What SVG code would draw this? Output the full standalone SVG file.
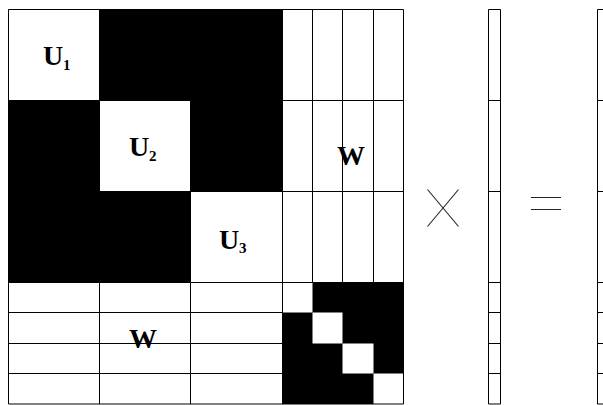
<svg xmlns="http://www.w3.org/2000/svg" width="603" height="405" viewBox="0 0 603 405">
<style>
.g{stroke:#000;stroke-width:1;fill:none}
.w{fill:#fff}
.b{fill:#000}
.lbl{font-family:"Liberation Serif","Times New Roman",serif;font-weight:bold;font-size:28px;fill:#000}
.sub{font-family:"Liberation Serif","Times New Roman",serif;font-weight:bold;font-size:15px;fill:#000}
.op{stroke:#222;stroke-width:1.1;fill:none}
</style>
<rect x="0" y="0" width="603" height="405" fill="#fff"/>
<g id="matrix-A">
  <rect class="b" x="8.5" y="9.5" width="274" height="273"/>
  <rect class="w" x="8.5" y="9.5" width="91" height="91"/>
  <rect class="w" x="99.5" y="100.5" width="91" height="91"/>
  <rect class="w" x="190.5" y="191.5" width="92" height="91"/>
  <rect class="b" x="282.5" y="282.5" width="121" height="121.5"/>
  <rect class="w" x="282.5" y="282.5" width="30" height="30"/>
  <rect class="w" x="312.5" y="312.5" width="30" height="31"/>
  <rect class="w" x="342.5" y="343.5" width="31" height="30"/>
  <rect class="w" x="373.5" y="373.5" width="30" height="30.5"/>
  <path class="g" d="M8.5 9.5H403.5V404H8.5Z
    M99.5 9.5V191.5 M190.5 100.5V282.5
    M8.5 100.5H190.5 M99.5 191.5H282.5
    M282.5 9.5V404 M8.5 282.5H403.5
    M312.5 9.5V282.5 M342.5 9.5V282.5 M373.5 9.5V282.5
    M282.5 100.5H403.5 M282.5 191.5H403.5
    M8.5 312.5H282.5 M8.5 343.5H282.5 M8.5 373.5H282.5
    M99.5 282.5V404 M190.5 282.5V404"/>
  <text class="lbl" x="43" y="65">U</text><text class="sub" x="63" y="70">1</text>
  <text class="lbl" x="129" y="156">U</text><text class="sub" x="149" y="161">2</text>
  <text class="lbl" x="219" y="249">U</text><text class="sub" x="239" y="253">3</text>
  <text class="lbl" x="351" y="165" text-anchor="middle">W</text>
  <text class="lbl" x="143" y="348" text-anchor="middle">W</text>
</g>
<g id="vector-x">
  <path class="g" d="M488.5 9.5H500.5V404H488.5Z M488.5 100.5H500.5 M488.5 191.5H500.5 M488.5 282.5H500.5 M488.5 312.5H500.5 M488.5 343.5H500.5 M488.5 373.5H500.5"/>
</g>
<g id="vector-b">
  <path class="g" d="M610 9.5H597.5V404H610 M597.5 100.5H610 M597.5 191.5H610 M597.5 282.5H610 M597.5 312.5H610 M597.5 343.5H610 M597.5 373.5H610"/>
</g>
<g id="operator-times">
  <path class="op" d="M427.5 189.5L458.5 226.5 M458.5 189.5L427.5 226.5"/>
</g>
<g id="operator-equals">
  <path class="op" d="M531 197.5H561 M531 209.5H561"/>
</g>
</svg>
